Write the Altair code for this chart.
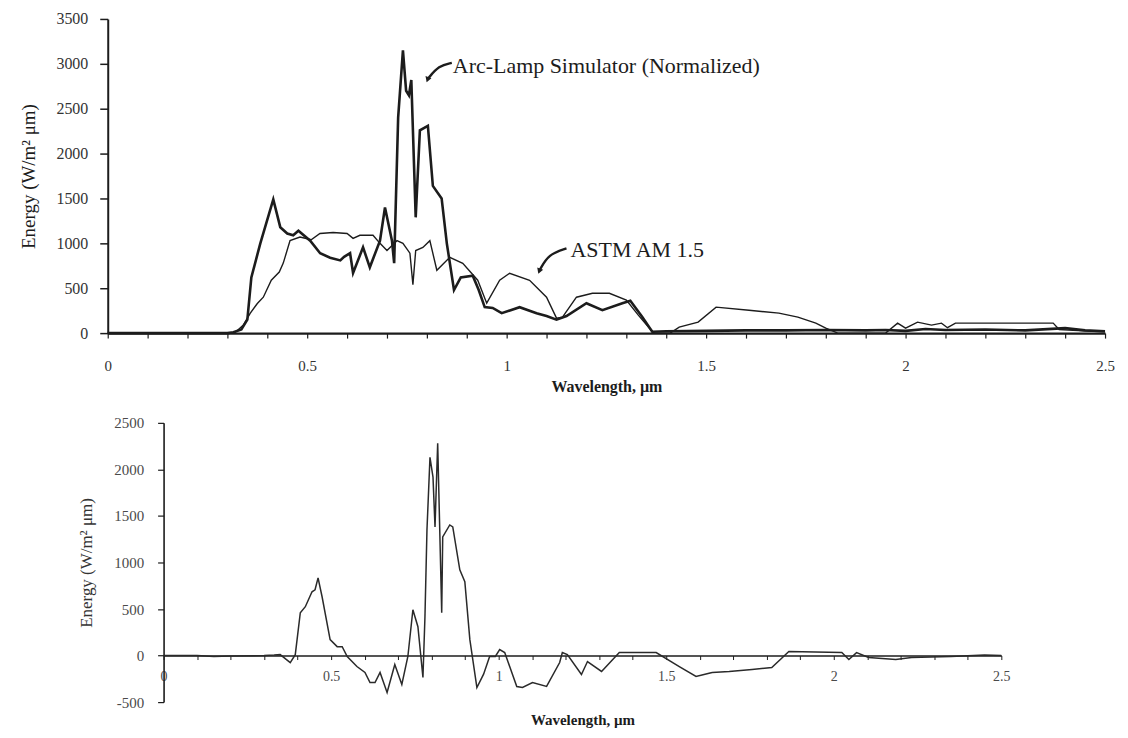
import altair as alt
import pandas as pd

# ---------------- data ----------------
arc_wl = [0.0, 0.3, 0.315, 0.335, 0.35, 0.36, 0.3825, 0.415, 0.4325, 0.45, 0.465, 0.478,
          0.5075, 0.5325, 0.5575, 0.583, 0.5925, 0.6075, 0.615, 0.64, 0.657, 0.6825, 0.695,
          0.7125, 0.718, 0.728, 0.74, 0.748, 0.755, 0.761, 0.772, 0.7825, 0.8025, 0.815,
          0.837, 0.85, 0.868, 0.885, 0.915, 0.93, 0.945, 0.965, 0.9875, 1.0325, 1.075, 1.1,
          1.125, 1.15, 1.2, 1.24, 1.29, 1.31, 1.34, 1.365, 1.4, 1.5, 1.6, 1.7, 1.8, 1.9,
          1.95, 2.0, 2.05, 2.1, 2.2, 2.3, 2.4, 2.45, 2.5]
arc_energy = [0, 0, 10, 40, 150, 620, 1000, 1490, 1180, 1110, 1090, 1140,
              1030, 890, 840, 810, 850, 890, 670, 955, 733, 1030, 1400,
              1030, 780, 2400, 3150, 2700, 2650, 2820, 1290, 2260, 2310, 1640,
              1500, 1000, 480, 620, 640, 480, 290, 280, 222, 289, 222, 190,
              150, 190, 333, 255, 333, 360, 180, 15, 20, 25, 30, 30, 35, 30,
              35, 25, 45, 35, 40, 30, 55, 30, 20]

astm_wl = [0.0, 0.3, 0.32, 0.34, 0.357, 0.375, 0.39, 0.41, 0.43, 0.44, 0.457, 0.482, 0.51,
           0.532, 0.565, 0.6, 0.615, 0.632, 0.665, 0.6825, 0.7, 0.725, 0.74, 0.7575, 0.765,
           0.772, 0.79, 0.8075, 0.825, 0.8575, 0.89, 0.9275, 0.95, 0.9825, 1.0075, 1.0575,
           1.1, 1.125, 1.14, 1.175, 1.215, 1.2575, 1.3, 1.33, 1.3575, 1.37, 1.41, 1.4325,
           1.48, 1.525, 1.6075, 1.6825, 1.73, 1.775, 1.8, 1.83, 1.95, 1.98, 2.0, 2.03, 2.065,
           2.09, 2.105, 2.125, 2.37, 2.385, 2.42, 2.5]
astm_energy = [0, 0, 10, 90, 220, 330, 400, 590, 680, 780, 1030, 1070, 1040,
               1110, 1120, 1110, 1055, 1090, 1090, 1000, 920, 1030, 1000, 890, 540,
               920, 955, 1030, 700, 844, 778, 589, 333, 589, 667, 589,
               400, 167, 178, 400, 444, 444, 367, 200, 56, 0, 0, 67,
               122, 289, 255, 222, 178, 111, 55, 0, 0, 111, 55, 122, 89,
               111, 60, 111, 111, 40, 30, 15]

diff_wl = [0.0, 0.1, 0.15, 0.2, 0.3, 0.33, 0.348, 0.378, 0.393, 0.408, 0.423, 0.443, 0.452,
           0.461, 0.473, 0.497, 0.518, 0.533, 0.548, 0.577, 0.601, 0.616, 0.631, 0.646,
           0.667, 0.69, 0.711, 0.729, 0.744, 0.759, 0.774, 0.78, 0.786, 0.795, 0.804, 0.81,
           0.818, 0.83, 0.833, 0.854, 0.863, 0.884, 0.899, 0.914, 0.935, 0.955, 0.973, 0.99,
           1.003, 1.018, 1.054, 1.071, 1.101, 1.143, 1.182, 1.19, 1.205, 1.247, 1.265,
           1.307, 1.36, 1.47, 1.539, 1.589, 1.637, 1.688, 1.756, 1.815, 1.866, 2.024,
           2.045, 2.068, 2.104, 2.185, 2.232, 2.35, 2.45, 2.5]
diff_energy = [0, 0, -10, -5, 0, 5, 10, -75, 10, 460, 525, 685, 707,
               835, 632, 171, 96, 96, -10, -118, -182, -289, -289, -182,
               -396, -96, -310, -10, 492, 310, -236, 418, 1350, 2130, 1917, 1382,
               2280, 460, 1275, 1403, 1382, 921, 793, 171, -343, -200, -10, -10,
               64, 32, -332, -343, -289, -332, -75, 32, 10, -203, -64,
               -171, 32, 32, -118, -225, -182, -171, -150, -128, 43, 32,
               -43, 32, -21, -43, -21, -10, 5, 0]

x_ticks = [round(i * 0.1, 1) for i in range(26)]
top_y_ticks = [0, 500, 1000, 1500, 2000, 2500, 3000, 3500]
bottom_y_ticks = [-500, 0, 500, 1000, 1500, 2000, 2500]

labels_text = ["Arc-Lamp Simulator (Normalized)", "ASTM AM 1.5"]
labels_wl = [0.865, 1.16]
labels_energy = [2978, 922]

arrow_group = ["arc", "arc", "arc", "astm", "astm", "astm"]
arrow_wl = [0.8625, 0.83, 0.8025, 1.15, 1.105, 1.0825]
arrow_energy = [3011, 2980, 2833, 944, 880, 700]

# ---------------- frames ----------------
arc_df = pd.DataFrame({"wl": arc_wl, "energy": arc_energy})
astm_df = pd.DataFrame({"wl": astm_wl, "energy": astm_energy})
diff_df = pd.DataFrame({"wl": diff_wl, "energy": diff_energy})
lab_df = pd.DataFrame({"wl": labels_wl, "energy": labels_energy, "label": labels_text})
arr_df = pd.DataFrame({"g": arrow_group, "wl": arrow_wl, "energy": arrow_energy})
head_df = arr_df.groupby("g").tail(1)

FONT = "Liberation Serif"
INK = "#1c1c1c"
x_label_expr = "round(datum.value * 10) % 5 == 0 ? format(datum.value, '~g') : ''"
y_label_expr = "'' + datum.value"

# ---------------- top panel ----------------
xt = alt.X("wl:Q", scale=alt.Scale(domain=[0, 2.5], nice=False, zero=False),
           axis=alt.Axis(values=x_ticks, labelExpr=x_label_expr, title="Wavelength, µm",
                         grid=False, tickSize=5, labelPadding=20, labelFontSize=15,
                         labelColor="#333333", titleFontSize=16, titleFontWeight="bold",
                         titlePadding=6, domainWidth=2.2, tickWidth=1.2,
                         domainColor=INK, tickColor=INK, titleColor=INK,
                         labelFont=FONT, titleFont=FONT, labelFlush=False))
yt = alt.Y("energy:Q", scale=alt.Scale(domain=[0, 3500], nice=False),
           axis=alt.Axis(values=top_y_ticks, labelExpr=y_label_expr,
                         title="Energy (W/m² μm)", grid=False,
                         tickSize=8, labelPadding=12, labelFontSize=16,
                         labelColor="#333333", titleFontSize=19, titleFontWeight="normal",
                         titlePadding=17, domainWidth=2, tickWidth=1.5,
                         domainColor=INK, tickColor=INK, titleColor=INK,
                         labelFont=FONT, titleFont=FONT))

arc_line = alt.Chart(arc_df).mark_line(color=INK, strokeWidth=2.6).encode(x=xt, y=yt)
astm_line = alt.Chart(astm_df).mark_line(color=INK, strokeWidth=1.4).encode(x=xt, y=yt)
labels = alt.Chart(lab_df).mark_text(font=FONT, fontSize=22, align="left",
                                     baseline="middle", color=INK).encode(
    x=xt, y=yt, text="label:N")
arrows = alt.Chart(arr_df).mark_line(color=INK, strokeWidth=2.4, interpolate="basis").encode(
    x=xt, y=yt, detail="g:N")
heads = alt.Chart(head_df).mark_point(shape="triangle", filled=True, color=INK, size=40,
                                      angle=200, opacity=1).encode(x=xt, y=yt)

top = alt.layer(astm_line, arc_line, arrows, heads, labels).properties(width=1000, height=315)

# ---------------- bottom panel ----------------
xb = alt.X("wl:Q", scale=alt.Scale(domain=[0, 2.5], nice=False, zero=False, range=[56, 896]),
           axis=alt.Axis(values=x_ticks, labelExpr=x_label_expr, title="Wavelength, µm",
                         grid=False, tickSize=4, labelPadding=10, labelFontSize=14,
                         labelColor="#4a4a4a", titleFontSize=15, titleFontWeight="bold",
                         titlePadding=29, offset=-46.7, domainWidth=1.6, tickWidth=1,
                         domainColor=INK, tickColor=INK, titleColor=INK,
                         labelFont=FONT, titleFont=FONT, labelFlush=False))
yb = alt.Y("energy:Q", scale=alt.Scale(domain=[-500, 2500], nice=False, zero=False),
           axis=alt.Axis(values=bottom_y_ticks, labelExpr=y_label_expr,
                         title="Energy (W/m² μm)", grid=False,
                         tickSize=6, labelPadding=14, labelFontSize=15,
                         labelColor="#4a4a4a", titleFontSize=17, titleFontWeight="normal",
                         titlePadding=18, offset=-56, domainWidth=1.6, tickWidth=1.2,
                         domainColor=INK, tickColor=INK, titleColor="#333333",
                         labelFont=FONT, titleFont=FONT))

bottom = alt.Chart(diff_df).mark_line(color="#2a2a2a", strokeWidth=1.5).encode(
    x=xb, y=yb).properties(width=896, height=280)

chart = alt.vconcat(top, bottom, spacing=21).properties(
    padding={"left": 12, "top": 2, "right": 5, "bottom": 5},
    background="white",
).configure_view(stroke=None)

chart.save("out.html", embed_options={"renderer": "svg", "actions": False})
